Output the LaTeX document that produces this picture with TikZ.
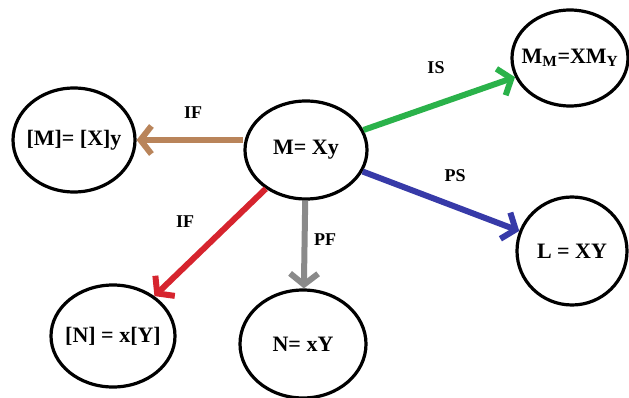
\documentclass[tikz,border=0pt]{standalone}
\usepackage{fontspec}
\setmainfont{Liberation Serif}
\usepackage{tikz}
\usetikzlibrary{shapes.geometric,arrows.meta}

\definecolor{ifbrown}{RGB}{185,132,90}
\definecolor{isgreen}{RGB}{42,178,74}
\definecolor{psblue}{RGB}{55,58,168}
\definecolor{ifred}{RGB}{214,36,46}
\definecolor{pfgray}{RGB}{138,138,138}

\begin{document}
\begin{tikzpicture}[x=1pt,y=-1pt,
	state/.style={ellipse,draw,line width=3.2pt,inner sep=-16pt,font=\fontsize{22}{24}\selectfont\bfseries},
	flow/.style={line width=6pt,-{Straight Barb[length=11pt,width=28pt]}},
	lbl/.style={font=\fontsize{18}{20}\selectfont\bfseries,inner sep=1pt}]
	\useasboundingbox (0,0) rectangle (629,398);
			\node[state,minimum width=122pt,minimum height=98pt] (M) at (306,150) {M= Xy};
			\node[state,minimum width=122pt,minimum height=104pt] (MX) at (74,140) {[M]= [X]y};
			\node[state,minimum width=116pt,minimum height=96pt] (MM) at (570,58) {M\textsubscript{M}=XM\textsubscript{Y}};
			\node[state,minimum width=110pt,minimum height=108pt] (L) at (572,251) {L = XY};
			\node[state,minimum width=124pt,minimum height=102pt] (N1) at (113,336) {[N] = x[Y]};
			\node[state,minimum width=126pt,minimum height=108pt] (N2) at (303,344) {N= xY};
			% arrows out of the middle state
			\draw[flow,ifbrown] (M.west |- MX.east) -- (MX.east);
			\draw[flow,isgreen] (M) -- (MM);
			\draw[flow,psblue] (M) -- (L);
			\draw[flow,ifred] (M) -- (N1);
			\draw[flow,pfgray] (M) -- (N2);
			% labels
			\node[lbl] (ifa) at (193,113) {IF};
			\node[lbl] (is) at (436,68) {IS};
			\node[lbl] (ps) at (455,176) {PS};
			\node[lbl] (ifb) at (185,222) {IF};
			\node[lbl] (pf) at (325,240) {PF};
	\end{tikzpicture}
\end{document}
